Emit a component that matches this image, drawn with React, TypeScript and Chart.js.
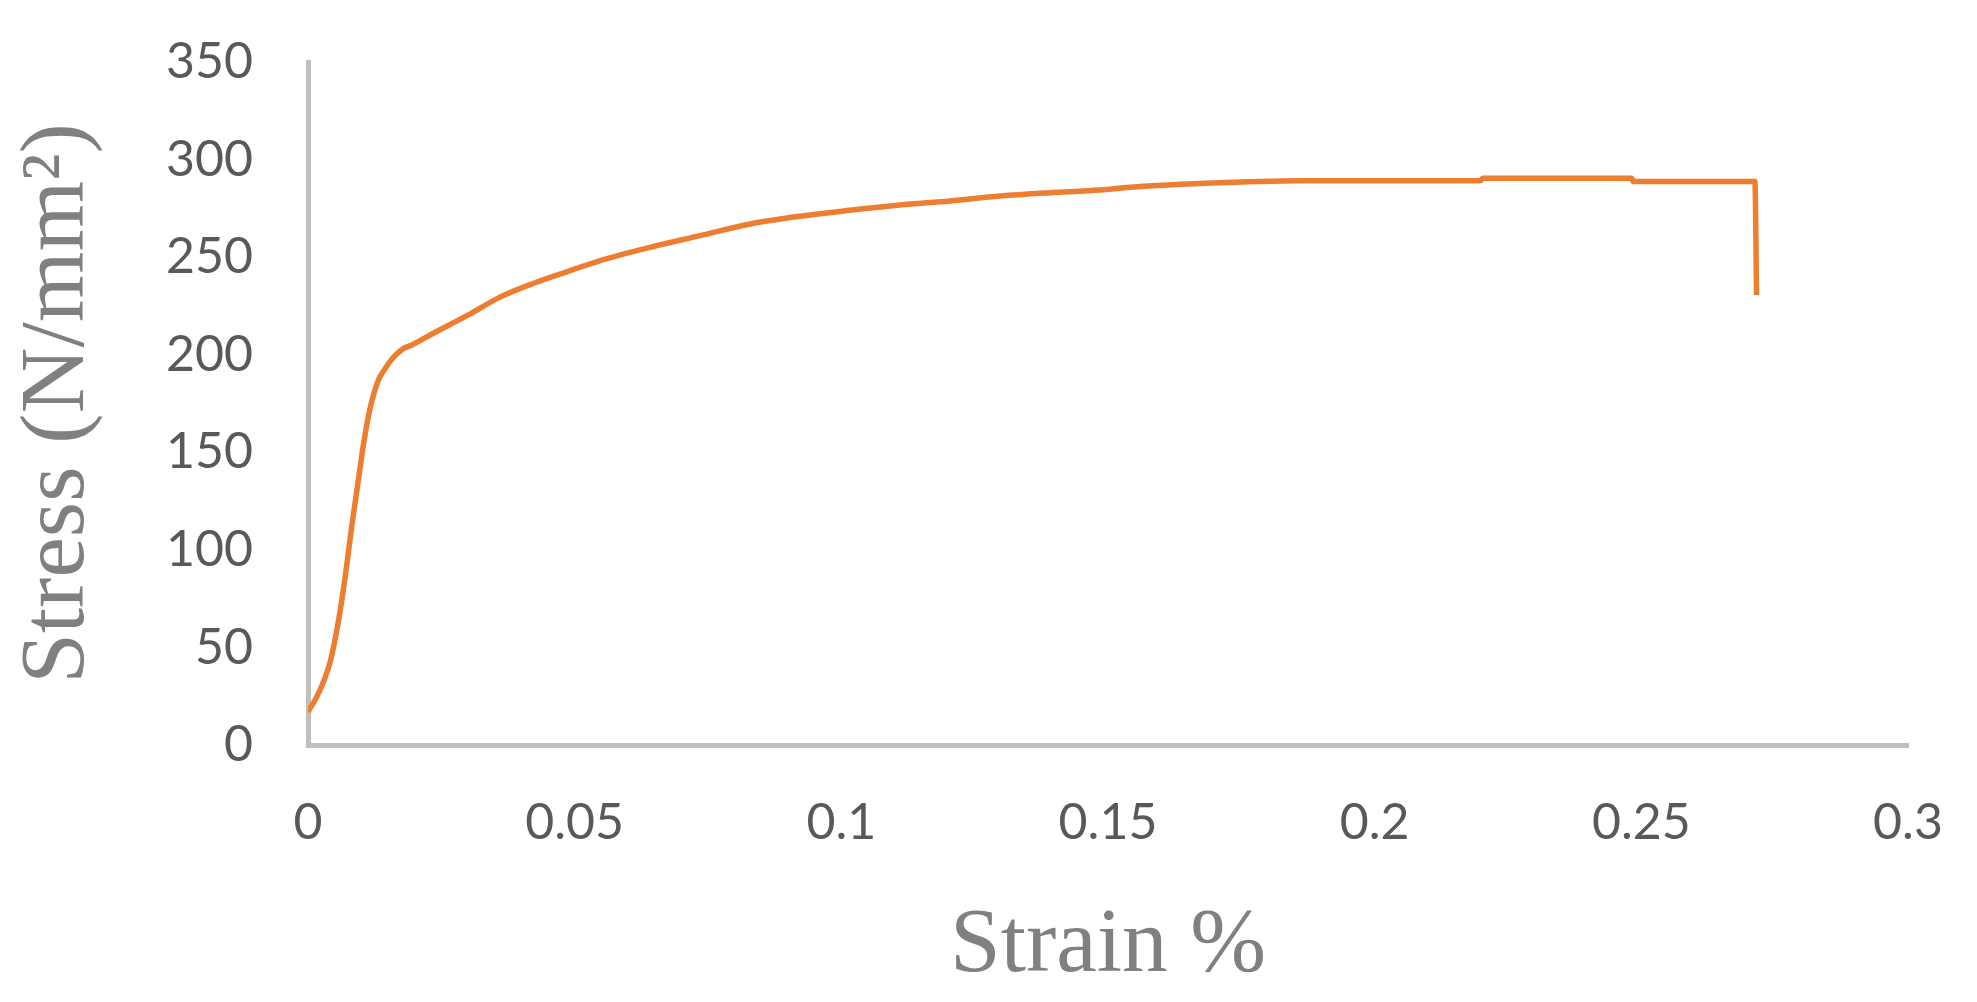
import React, { useEffect, useRef } from "react";
import { Chart, registerables } from "chart.js";

Chart.register(...registerables);

const strain = [
  0, 0.0015, 0.003, 0.0042, 0.005, 0.0058, 0.0066, 0.0074, 0.0082, 0.0093,
  0.0104, 0.0116, 0.0132, 0.0145, 0.0155, 0.0165, 0.0178, 0.0195, 0.0235, 0.0298,
  0.036, 0.0422, 0.0485, 0.0545, 0.0641, 0.0735, 0.0829, 0.0923, 0.1016, 0.111,
  0.1204, 0.1298, 0.1391, 0.1485, 0.1548, 0.1673, 0.186, 0.2198, 0.2203, 0.2482,
  0.2485, 0.2713, 0.2716,
];
const stress = [
  17, 24, 33, 43, 53, 65, 79, 95, 112, 133,
  154, 172, 187, 193, 197, 200, 203, 205, 211, 220,
  229.5, 236.5, 242.5, 248, 255, 261, 267, 271, 274, 276.7,
  278.8, 281.3, 283, 284.4, 286, 287.8, 289.2, 289.2, 290.4, 290.4,
  288.7, 288.7, 230.6,
];
const xTicks = [0, 0.05, 0.1, 0.15, 0.2, 0.25, 0.3];
const yTicks = [0, 50, 100, 150, 200, 250, 300, 350];
const xTitle = "Strain %";
const yTitle = "Stress (N/mm\u00B2)";

const W = 1977;
const H = 1002;

export default function App() {
  const ref = useRef<HTMLCanvasElement | null>(null);

  useEffect(() => {
    const canvas = ref.current;
    if (!canvas) return;
    const points = strain.map((x, i) => ({ x, y: stress[i] }));
    const tickFont = { family: "Lato, 'Open Sans', sans-serif", size: 50 };
    const titleFont = { family: "'Liberation Serif', 'DejaVu Serif', serif", size: 91 };
    const chart = new Chart(canvas, {
      type: "scatter",
      data: {
        datasets: [
          {
            data: points,
            showLine: true,
            borderColor: "#ED7D31",
            backgroundColor: "#ED7D31",
            borderWidth: 5.5,
            pointRadius: 0,
            cubicInterpolationMode: "monotone",
          },
        ],
      },
      options: {
        animation: false,
        responsive: false,
        devicePixelRatio: 1,
        layout: { padding: { left: 0, right: W - 1908, top: 62, bottom: 0 } },
        plugins: { legend: { display: false }, tooltip: { enabled: false } },
        scales: {
          x: {
            type: "linear",
            min: 0,
            max: 0.3,
            afterBuildTicks: (scale: any) => {
              scale.ticks = xTicks.map((v) => ({ value: v }));
            },
            afterFit: (scale: any) => {
              scale.height = H - 745;
              scale.paddingLeft = 0;
              scale.paddingRight = 0;
            },
            grid: { display: false, drawTicks: false },
            border: { display: true, color: "#BFBFBF", width: 5 },
            ticks: {
              color: "#595959",
              font: tickFont,
              padding: 48,
              maxRotation: 0,
              autoSkip: false,
              callback: (v: any) => String(Number(Number(v).toFixed(2))),
            },
            title: {
              display: true,
              text: xTitle,
              color: "#808080",
              font: titleFont,
              padding: { top: 0, bottom: 0 },
            },
          },
          y: {
            type: "linear",
            min: 0,
            max: 350,
            afterBuildTicks: (scale: any) => {
              scale.ticks = yTicks.map((v) => ({ value: v }));
            },
            afterFit: (scale: any) => {
              scale.width = 308;
              scale.paddingTop = 0;
              scale.paddingBottom = 0;
            },
            grid: { display: false, drawTicks: false },
            border: { display: true, color: "#BFBFBF", width: 5 },
            ticks: {
              color: "#595959",
              font: tickFont,
              padding: 55,
              autoSkip: false,
              callback: (v: any) => String(v),
            },
            title: {
              display: true,
              text: yTitle,
              color: "#808080",
              font: titleFont,
              padding: { top: 4, bottom: 0 },
            },
          },
        },
      },
    } as any);
    return () => chart.destroy();
  }, []);

  return (
    <div style={{ position: "fixed", left: 0, top: 0, width: W, height: H, background: "#fff" }}>
      <canvas ref={ref} width={W} height={H} style={{ width: W, height: H, display: "block" }} />
    </div>
  );
}
